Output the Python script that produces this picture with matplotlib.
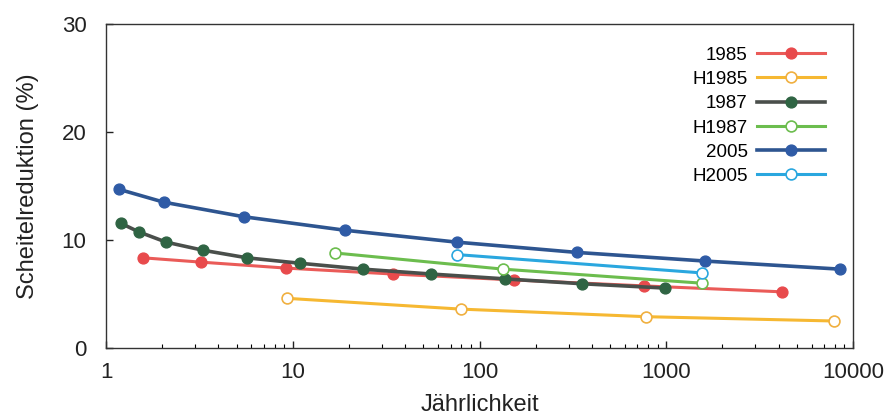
import matplotlib
matplotlib.use("Agg")
import matplotlib.pyplot as plt
from matplotlib.ticker import FixedLocator, NullFormatter, LogLocator

plt.rcParams['font.family'] = ['Liberation Sans', 'DejaVu Sans']

# Data (Jährlichkeit, Scheitelreduktion %)
x_1985 = [1.58, 3.23, 9.2, 34.4, 153, 760, 4170]
y_1985 = [8.35, 7.95, 7.4, 6.85, 6.3, 5.75, 5.2]

x_H1985 = [9.3, 79.6, 779, 7910]
y_H1985 = [4.6, 3.6, 2.9, 2.5]

x_1987 = [1.20, 1.50, 2.10, 3.31, 5.69, 10.9, 23.8, 55.0, 137, 354, 985]
y_1987 = [11.55, 10.75, 9.8, 9.05, 8.35, 7.85, 7.3, 6.85, 6.4, 5.95, 5.55]

x_H1987 = [16.8, 134, 1555]
y_H1987 = [8.8, 7.3, 6.0]

x_2005 = [1.17, 2.04, 5.48, 19.1, 75.7, 332, 1617, 8530]
y_2005 = [14.7, 13.5, 12.15, 10.9, 9.8, 8.85, 8.05, 7.3]

x_H2005 = [75.7, 1555]
y_H2005 = [8.65, 6.95]

xticks = [1, 10, 100, 1000, 10000]
xticklabels = ['1', '10', '100', '1000', '10000']
yticks = [0, 10, 20, 30]

fig = plt.figure(figsize=(8.9, 4.17), dpi=100)
ax = fig.add_axes([106/890, 1-348/417, (853-106)/890, (348-24)/417])

lw = 2.2
ms = 7.8
ax.plot(x_1985, y_1985, '-o', color='#ea5b58', lw=lw, ms=ms, mfc='#e84a4c', mec='#e84a4c', label='1985')
ax.plot(x_H1985, y_H1985, '-o', color='#f6b832', lw=lw, ms=ms, mfc='white', mec='#f0b040', mew=1.2, label='H1985')
ax.plot(x_1987, y_1987, '-o', color='#4a4f4b', lw=lw+0.4, ms=ms, mfc='#2f6443', mec='#2f6443', label='1987')
ax.plot(x_H1987, y_H1987, '-o', color='#6cbd4e', lw=lw, ms=ms, mfc='white', mec='#6cbd4e', mew=1.2, label='H1987')
ax.plot(x_2005, y_2005, '-o', color='#2e5590', lw=lw+0.4, ms=ms, mfc='#2f5ba6', mec='#2f5ba6', label='2005')
ax.plot(x_H2005, y_H2005, '-o', color='#2aa7df', lw=lw, ms=ms, mfc='white', mec='#2aa7df', mew=1.2, label='H2005')

ax.set_xscale('log')
ax.set_xlim(1, 10000)
ax.set_ylim(0, 30)
ax.xaxis.set_major_locator(FixedLocator(xticks))
ax.set_xticklabels(xticklabels)
ax.xaxis.set_minor_locator(LogLocator(base=10, subs=range(2, 10)))
ax.xaxis.set_minor_formatter(NullFormatter())
ax.set_yticks(yticks)

ax.tick_params(axis='both', which='major', direction='in', length=5, width=1, labelsize=16, colors='#222222')
ax.tick_params(axis='x', which='major', pad=10)
ax.tick_params(axis='y', which='major', pad=14)
ax.tick_params(axis='x', which='minor', direction='in', length=3, width=0.8)
for s in ax.spines.values():
    s.set_linewidth(1.0)
    s.set_color('#333333')

ax.set_xlabel('Jährlichkeit', fontsize=17, labelpad=8, color='#222222')
ax.set_ylabel('Scheitelreduktion (%)', fontsize=17, labelpad=16, color='#222222')

leg = ax.legend(loc='upper right', bbox_to_anchor=(0.962, 0.93), frameon=False,
                markerfirst=False, fontsize=13.5, handlelength=3.6, handletextpad=0.5,
                labelspacing=0.38, borderpad=0, borderaxespad=0)

fig.savefig('out.png', dpi=100)
